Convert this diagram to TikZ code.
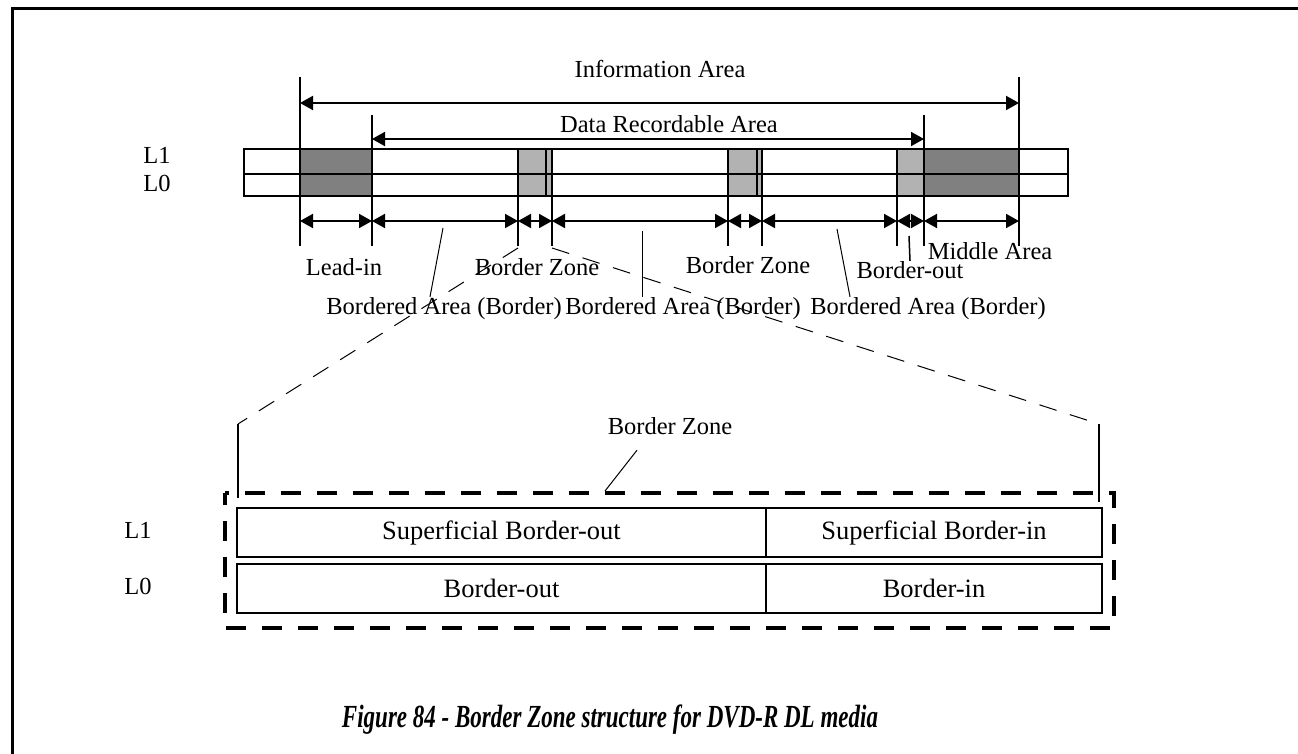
\documentclass[tikz,border=0pt]{standalone}
\usepackage{fontspec}
\setmainfont{Liberation Serif}
\usetikzlibrary{arrows.meta}
\tikzset{
    lbl/.style = {inner sep = 0pt, text height = 17pt, text depth = 5pt, font = \fontsize{24.5}{28}\selectfont},
    cell/.style = {draw, line width = 2pt, minimum height = 49pt, inner sep = 0pt, font = \fontsize{26.5}{30}\selectfont},
    dim/.style = {line width = 2pt, {Triangle[length = 13pt, width = 14pt]}-{Triangle[length = 13pt, width = 14pt]}},
    zoomline/.style = {line width = 1pt, dash pattern = on 18pt off 14pt}
}

\begin{document}
\begin{tikzpicture}[x = 1pt, y = -1pt]
    \useasboundingbox (0,0) rectangle (1298,754);
    \draw[line width = 3pt] (12.5,754) -- (12.5,8.5) -- (1298,8.5);

    \foreach \a/\b in {300/372, 924/1019}
    {
        \fill[black!50] (\a,149) rectangle (\b,196);
    }
    \foreach \a/\b in {518/552, 728/762, 897/924}
    {
        \filldraw[fill = black!30, line width = 2pt] (\a,149) rectangle (\b,196);
    }
    \draw[line width = 2pt] (244,149) rectangle (1068,196);
    \draw[line width = 2pt] (244,174) -- (1068,174);
    \draw[line width = 1.5pt] (546,149) -- (546,196) (757,149) -- (757,196);

    \foreach \n/\x/\t in {a/300/77, b/372/115, c/518/149, d/552/196, e/728/149, f/762/196, g/897/149, h/924/115, k/1019/77}
    {
        \coordinate (t\n) at (\x,221);
        \draw[line width = 2pt] (\x,\t) -- (\x,246);
    }
    \foreach \p/\q in {a/b, b/c, c/d, d/e, e/f, f/g, g/h, h/k}
    {
        \draw[dim] (t\p) -- (t\q);
    }

    \coordinate (ial) at (300,103);
    \coordinate (iar) at (1019,103);
    \coordinate (dal) at (372,139);
    \coordinate (dar) at (924,139);
    \draw[dim] (ial) -- (iar);
    \draw[dim] (dal) -- (dar);

    \node[lbl] (info) at (660,72) {Information Area};
    \node[lbl] (data) at (669,127) {Data Recordable Area};
    \node[lbl] (ltop) at (157,158) {L1};
    \node[lbl] (lbot) at (157,186) {L0};
    \node[lbl] (leadin) at (344,269) {Lead-in};
    \node[lbl] (bz1) at (537,269) {Border Zone};
    \node[lbl] (bz2) at (748,267) {Border Zone};
    \node[lbl] (bout) at (910,272) {Border-out};
    \node[lbl] (mid) at (990,253) {Middle Area};
    \node[lbl] (ba1) at (444,308) {Bordered Area (Border)};
    \node[lbl] (ba2) at (683,308) {Bordered Area (Border)};
    \node[lbl] (ba3) at (928,308) {Bordered Area (Border)};

    \coordinate (pa1) at (443,228);
    \coordinate (pa2) at (642,231);
    \coordinate (pa3) at (837,229);
    \coordinate (pbo) at (909,236);
    \draw[line width = 1pt] (pa1) -- ([xshift = -14pt]ba1.north);
    \draw[line width = 1pt] (pa2) -- ([xshift = -41pt]ba2.north);
    \draw[line width = 1pt] (pa3) -- ([xshift = -78pt]ba3.north);
    \draw[line width = 1.5pt] (pbo) -- (bout.north);

    \coordinate (zsl) at (518,248);
    \coordinate (zsr) at (552,248);
    \coordinate (zl) at (238,424);
    \coordinate (zr) at (1099,424);
    \coordinate (zlb) at (238,498);
    \coordinate (zrb) at (1099,502);
    \draw[zoomline] (zsl) -- (zl);
    \draw[zoomline] (zsr) -- (zr);
    \draw[line width = 1.5pt] (zl) -- (zlb);
    \draw[line width = 1.5pt] (zr) -- (zrb);

    \draw[line width = 4pt, dash pattern = on 20pt off 16pt, dash phase = 8pt] (225,493) rectangle (1114,628);
    \node[cell, minimum width = 529pt] (sbo) at (501.5,532.5) {Superficial Border-out};
    \node[cell, minimum width = 336pt] (sbi) at (934,532.5) {Superficial Border-in};
    \node[cell, minimum width = 529pt] (bo) at (501.5,588) {Border-out};
    \node[cell, minimum width = 336pt] (bi) at (934,588) {Border-in};
    \node[lbl] (lone) at (138,532) {L1};
    \node[lbl] (lzero) at (138,588) {L0};

    \node[lbl] (bzl) at (670,428) {Border Zone};
    \coordinate (pbz) at (605,491);
    \draw[line width = 1pt] (pbz) -- ([xshift = -33pt, yshift = -11pt]bzl.south);

    \node[inner sep = 0pt, font = \fontsize{23}{28}\selectfont\bfseries\itshape] (cap) at (610,720) {\scalebox{1}[1.4]{Figure 84 - Border Zone structure for DVD-R DL media}};
\end{tikzpicture}
\end{document}
